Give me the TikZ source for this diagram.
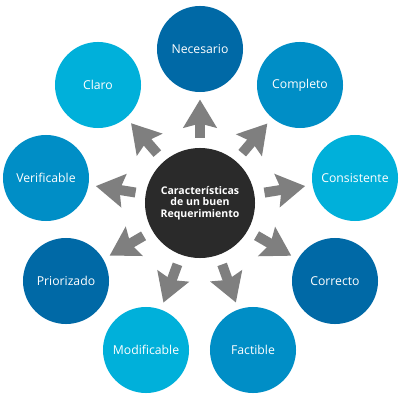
\documentclass[tikz,border=0pt]{standalone}
\usepackage{fontspec}
\setmainfont{Open Sans}
\usetikzlibrary{arrows.meta}

\definecolor{darkblue}{HTML}{0069A6}
\definecolor{midblue}{HTML}{008EC6}
\definecolor{lightblue}{HTML}{00B0DA}
\definecolor{hubgray}{HTML}{2A2A2A}
\definecolor{arrowgray}{HTML}{7F7F7F}

\tikzset{
  item/.style={circle, inner sep=0pt, minimum size=2.15cm, text=white,
    font=\fontsize{8.7}{10}\selectfont},
  hub/.style={circle, fill=hubgray, inner sep=0pt, minimum size=2.75cm,
    text=white, align=center, font=\bfseries\fontsize{7.5}{8.3}\selectfont},
  spoke/.style={draw=arrowgray, line width=0.25cm,
    -{Stealth[width=0.82cm,length=0.7cm,inset=0.1cm]},
    shorten <=0.25cm, shorten >=0.18cm}
}

\begin{document}
\begin{tikzpicture}[x=0.025cm,y=-0.025cm]
\useasboundingbox (0,0) rectangle (400,400);

% center
\node[hub] (hub) at (200,203) {Características\\de un buen\\Requerimiento};

% characteristics
\node[item, fill=darkblue] (necesario) at (200,49) {Necesario};
\node[item, fill=midblue] (completo) at (300,85) {Completo};
\node[item, fill=lightblue] (consistente) at (355,178) {Consistente};
\node[item, fill=darkblue] (correcto) at (335,281) {Correcto};
\node[item, fill=midblue] (factible) at (253,350) {Factible};
\node[item, fill=lightblue] (modificable) at (146,350) {Modificable};
\node[item, fill=darkblue] (priorizado) at (66,281) {Priorizado};
\node[item, fill=midblue] (verificable) at (46,178) {Verificable};
\node[item, fill=lightblue] (claro) at (98,85) {Claro};

% arrows
\draw[spoke] (hub) -- (necesario);
\draw[spoke] (hub) -- (completo);
\draw[spoke] (hub) -- (consistente);
\draw[spoke] (hub) -- (correcto);
\draw[spoke] (hub) -- (factible);
\draw[spoke] (hub) -- (modificable);
\draw[spoke] (hub) -- (priorizado);
\draw[spoke] (hub) -- (verificable);
\draw[spoke] (hub) -- (claro);

\end{tikzpicture}
\end{document}
